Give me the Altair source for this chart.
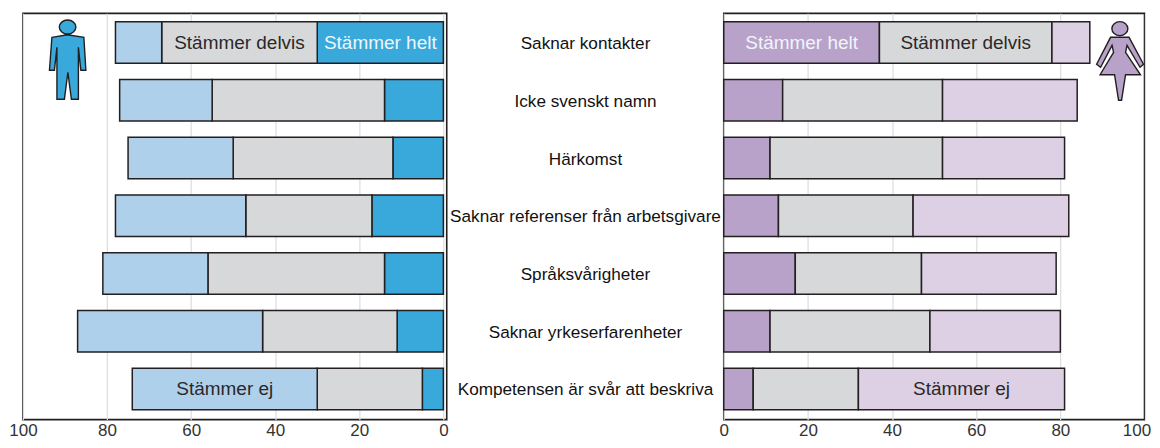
import altair as alt
import pandas as pd

categories = ["Saknar kontakter", "Icke svenskt namn", "Härkomst",
              "Saknar referenser från arbetsgivare", "Språksvårigheter",
              "Saknar yrkeserfarenheter", "Kompetensen är svår att beskriva"]
series = ["Stämmer helt", "Stämmer delvis", "Stämmer ej"]

men_helt = [30, 14, 12, 17, 14, 11, 5]
men_delvis = [37, 41, 38, 30, 42, 32, 25]
men_ej = [11, 22, 25, 31, 25, 44, 44]

women_helt = [37, 14, 11, 13, 17, 11, 7]
women_delvis = [41, 38, 41, 32, 30, 38, 25]
women_ej = [9, 32, 29, 37, 32, 31, 49]

men_labels = {(0, "Stämmer delvis"): "Stämmer delvis", (0, "Stämmer helt"): "Stämmer helt", (6, "Stämmer ej"): "Stämmer ej"}
women_labels = {(0, "Stämmer helt"): "Stämmer helt", (0, "Stämmer delvis"): "Stämmer delvis", (6, "Stämmer ej"): "Stämmer ej"}

men_colors = ["#39a9dc", "#d7d8da", "#afd0ea"]
women_colors = ["#b9a2c9", "#d7d8da", "#ddd0e5"]
INK = "#231f20"
FONT = "Liberation Sans"


def table(h, d, e, labels):
    rows = []
    for i, c in enumerate(categories):
        start = 0
        for s, v in zip(series, (h[i], d[i], e[i])):
            rows.append({"cat": c, "series": s, "start": start, "end": start + v,
                         "mid": start + v / 2, "label": labels.get((i, s), "")})
            start += v
    return pd.DataFrame(rows)


def norm(points, cx, cy, half):
    return "M" + "L".join(f"{(x - cx) / half:.3f},{(y - cy) / half:.3f}" for x, y in points) + "Z"


def head(cx, cy, rx, ry, ox, oy, half):
    x = (cx - ox) / half
    y = (cy - oy) / half
    a = rx / half
    b = ry / half
    k = 0.5523
    return (f"M{x - a:.3f},{y:.3f}"
            f"C{x - a:.3f},{y - k * b:.3f} {x - k * a:.3f},{y - b:.3f} {x:.3f},{y - b:.3f}"
            f"C{x + k * a:.3f},{y - b:.3f} {x + a:.3f},{y - k * b:.3f} {x + a:.3f},{y:.3f}"
            f"C{x + a:.3f},{y + k * b:.3f} {x + k * a:.3f},{y + b:.3f} {x:.3f},{y + b:.3f}"
            f"C{x - k * a:.3f},{y + b:.3f} {x - a:.3f},{y + k * b:.3f} {x - a:.3f},{y:.3f}Z")


man_body = [(52, 37), (67.5, 34.5), (84, 37), (86, 70), (81, 70), (78.5, 47), (78.5, 99), (71.5, 99),
            (68, 72), (64.5, 99), (57, 99), (57, 47), (54.5, 70), (49.5, 70)]
woman_body = [(1110, 37), (1128.5, 37), (1143, 64), (1139.5, 67), (1126.5, 45), (1125, 52), (1140, 74.5),
              (1125, 74.5), (1121, 100), (1118, 100), (1114, 74.5), (1099.5, 74.5), (1113, 52), (1111.5, 45),
              (1100, 67), (1096, 64)]
man_shape = norm(man_body, 67.5, 60, 40.5) + head(67.7, 26.7, 8.3, 7, 67.5, 60, 40.5)
woman_shape = norm(woman_body, 1119.5, 60, 40.5) + head(1119.3, 28.3, 8, 7, 1119.5, 60, 40.5)

PW_L, PW_R, H = 424.5, 421.5, 407
y_scale = alt.Scale(type="band", domain=categories, paddingInner=0.281, paddingOuter=0.16, align=0.46)
ticks = [0, 20, 40, 60, 80, 100]


def panel(df, colors, domain, width, shape, fill, ix, iy, label_offset):
    x = alt.X("start:Q", scale=alt.Scale(domain=domain, nice=False, zero=False),
              axis=alt.Axis(values=ticks, title=None, domain=False, ticks=False, grid=True, gridColor="#dcdddf",
                            gridWidth=1.2, labelFont=FONT, labelFontSize=17, labelColor="#333333",
                            labelPadding=3, labelFlush=False, labelOverlap=False, format="d",
                            labelOffset=label_offset))
    y = alt.Y("cat:N", scale=y_scale, sort=categories, axis=None)
    bars = alt.Chart(df).mark_bar(stroke=INK, strokeWidth=1.5).encode(
        x=x, x2="end:Q", y=y,
        color=alt.Color("series:N", scale=alt.Scale(domain=series, range=colors), legend=None))
    text_df = df[df["label"] != ""]
    txt = alt.Chart(text_df).mark_text(font=FONT, fontSize=19, baseline="middle").encode(
        x=alt.X("mid:Q"), y=y,
        text="label:N",
        color=alt.condition(alt.datum.series == "Stämmer helt", alt.value("#eef6fb"), alt.value("#2a2829")))
    icon = alt.Chart(pd.DataFrame({"i": [0]})).mark_point(
        shape=shape, size=81 * 81, filled=True, fill=fill, stroke=INK, strokeWidth=1.4, opacity=1).encode(
        x=alt.value(ix), y=alt.value(iy))
    return alt.layer(bars, txt, icon).properties(width=width, height=H)


men = panel(table(men_helt, men_delvis, men_ej, men_labels), men_colors, [100.0, -0.8], PW_L,
            man_shape, "#39a9dc", 44.5, 47, 0)
women = panel(table(women_helt, women_delvis, women_ej, women_labels), women_colors, [0, 100], PW_R,
              woman_shape, "#b9a2c9", 397, 47,
              alt.condition(alt.datum.value == 100, alt.value(-8), alt.value(0)))

middle = alt.Chart(pd.DataFrame({"cat": categories})).mark_text(
    font=FONT, fontSize=17.2, color="#111111", baseline="middle", dy=1.5).encode(
    x=alt.value(138.5), y=alt.Y("cat:N", scale=y_scale, sort=categories, axis=None), text="cat:N"
).properties(width=277, height=H, view=alt.ViewBackground(stroke="transparent"))

chart = alt.hconcat(men, middle, women, spacing=0, bounds="flush", background="white").resolve_scale(
    x="independent", y="independent", color="independent"
).properties(padding={"left": 0, "top": 4, "right": 0, "bottom": 0}
).configure_view(stroke=INK, strokeWidth=1.6)

chart.save("out.html", embed_options={"renderer": "svg", "actions": False})
